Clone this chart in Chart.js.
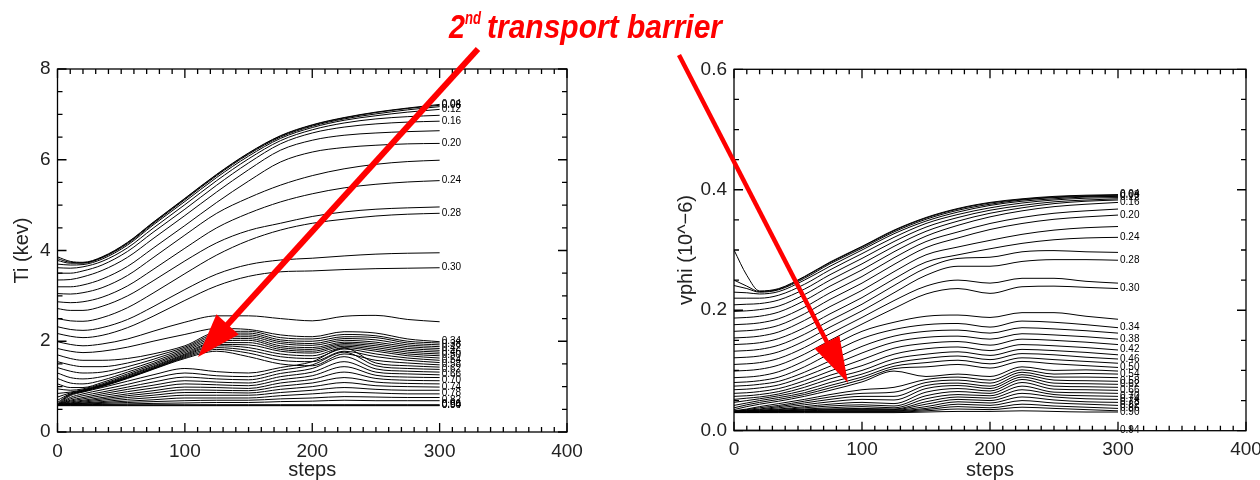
<!DOCTYPE html>
<html>
<head>
<meta charset="utf-8">
<script src="https://cdn.jsdelivr.net/npm/chart.js@4.4.1/dist/chart.umd.min.js"></script>
<style>
html, body { margin: 0; padding: 0; background: #fff; overflow: hidden; }
#wrap { position: relative; width: 1260px; height: 480px; overflow: hidden; }
canvas { position: absolute; top: 0; }
#ti { left: 0; }
#vphi { left: 630px; }
#notes { left: 0; pointer-events: none; }
</style>
</head>
<body>
<div id="wrap">
  <canvas id="ti" width="630" height="480"></canvas>
  <canvas id="vphi" width="650" height="480"></canvas>
  <canvas id="notes" width="1260" height="480"></canvas>
</div>
<script>
// x positions (steps) shared by every curve
const steps = [0, 10, 20, 35, 55, 75, 100, 125, 150, 175, 200, 225, 250, 275, 300];

// ---- left panel: Ti (kev) ----
const tiUpper = [
  [3.86, 3.76, 3.74, 3.86, 4.18, 4.62, 5.15, 5.68, 6.15, 6.53, 6.77, 6.93, 7.05, 7.14, 7.22],
  [3.82, 3.74, 3.73, 3.85, 4.17, 4.61, 5.14, 5.67, 6.14, 6.52, 6.76, 6.92, 7.04, 7.13, 7.20],
  [3.78, 3.72, 3.72, 3.84, 4.15, 4.59, 5.12, 5.65, 6.12, 6.50, 6.74, 6.90, 7.01, 7.10, 7.17],
  [3.70, 3.68, 3.69, 3.81, 4.12, 4.56, 5.08, 5.61, 6.08, 6.47, 6.71, 6.87, 6.97, 7.05, 7.11],
  [3.62, 3.61, 3.64, 3.76, 4.06, 4.49, 5.01, 5.54, 6.02, 6.42, 6.66, 6.81, 6.90, 6.95, 6.98],
  [3.50, 3.50, 3.55, 3.68, 3.98, 4.40, 4.91, 5.44, 5.93, 6.35, 6.59, 6.72, 6.79, 6.83, 6.85],
  [3.35, 3.36, 3.42, 3.56, 3.85, 4.26, 4.77, 5.29, 5.78, 6.21, 6.43, 6.54, 6.59, 6.62, 6.64],
  [3.20, 3.20, 3.24, 3.37, 3.65, 4.05, 4.55, 5.06, 5.53, 5.95, 6.17, 6.27, 6.32, 6.35, 6.36],
  [3.05, 3.04, 3.07, 3.18, 3.45, 3.84, 4.34, 4.82, 5.16, 5.44, 5.65, 5.80, 5.90, 5.96, 5.99],
  [2.87, 2.85, 2.87, 2.97, 3.22, 3.58, 4.05, 4.50, 4.82, 5.07, 5.25, 5.38, 5.46, 5.51, 5.54],
  [2.72, 2.68, 2.68, 2.77, 3.00, 3.33, 3.77, 4.17, 4.44, 4.60, 4.75, 4.85, 4.91, 4.94, 4.96],
  [2.50, 2.45, 2.44, 2.52, 2.74, 3.06, 3.49, 3.90, 4.22, 4.45, 4.60, 4.69, 4.76, 4.80, 4.82],
  [2.32, 2.26, 2.24, 2.30, 2.48, 2.76, 3.14, 3.48, 3.69, 3.79, 3.83, 3.88, 3.92, 3.94, 3.95],
  [2.17, 2.11, 2.08, 2.13, 2.30, 2.55, 2.90, 3.22, 3.43, 3.53, 3.55, 3.58, 3.60, 3.61, 3.62],
  [1.99, 1.93, 1.90, 1.94, 2.05, 2.22, 2.42, 2.56, 2.56, 2.50, 2.45, 2.55, 2.57, 2.48, 2.43],
  [1.84, 1.78, 1.75, 1.78, 1.87, 2.00, 2.15, 2.28, 2.26, 2.14, 2.10, 2.21, 2.18, 2.05, 1.99]
];
const tiUpperLabels = ['0.04', '0.08', '', '0.12', '', '0.16', '', '0.20', '', '0.24', '', '0.28', '', '0.30', '', '0.34'];

const tiBand = [
  [1.70, 1.62, 1.58, 1.58, 1.62, 1.72, 1.90, 2.20, 2.22, 2.08, 2.05, 2.15, 2.12, 2.00, 1.96],
  [1.55, 1.48, 1.44, 1.44, 1.52, 1.66, 1.87, 2.16, 2.18, 2.03, 2.00, 2.10, 2.08, 1.96, 1.92],
  [1.42, 1.34, 1.30, 1.32, 1.44, 1.60, 1.84, 2.12, 2.14, 1.99, 1.95, 2.06, 2.03, 1.92, 1.88],
  [1.30, 1.20, 1.17, 1.22, 1.37, 1.55, 1.81, 2.08, 2.10, 1.95, 1.91, 2.02, 1.98, 1.88, 1.84],
  [1.18, 1.08, 1.06, 1.14, 1.32, 1.51, 1.78, 2.04, 2.06, 1.90, 1.86, 1.98, 1.94, 1.84, 1.80],
  [1.06, 0.98, 0.98, 1.09, 1.28, 1.48, 1.75, 2.00, 2.02, 1.86, 1.82, 1.95, 1.90, 1.80, 1.76],
  [0.95, 0.92, 0.95, 1.06, 1.25, 1.45, 1.72, 1.97, 1.97, 1.82, 1.78, 1.92, 1.86, 1.76, 1.72],
  [0.85, 0.88, 0.93, 1.04, 1.23, 1.43, 1.70, 1.93, 1.92, 1.78, 1.74, 1.89, 1.82, 1.72, 1.68],
  [0.77, 0.86, 0.92, 1.03, 1.21, 1.41, 1.68, 1.90, 1.86, 1.72, 1.68, 1.86, 1.78, 1.68, 1.63],
  [0.70, 0.84, 0.91, 1.02, 1.20, 1.40, 1.66, 1.86, 1.80, 1.66, 1.62, 1.83, 1.72, 1.63, 1.58],
  [0.65, 0.83, 0.90, 1.01, 1.19, 1.39, 1.64, 1.82, 1.74, 1.58, 1.55, 1.78, 1.66, 1.58, 1.53],
  [0.62, 0.82, 0.89, 1.00, 1.18, 1.38, 1.62, 1.78, 1.66, 1.50, 1.46, 1.72, 1.58, 1.52, 1.48]
];
const tiBandLabels = ['', '0.38', '', '0.42', '', '0.46', '', '0.50', '', '0.54', '', '0.58'];

const tiLower = [
  [0.60, 0.80, 0.88, 0.98, 1.12, 1.26, 1.40, 1.33, 1.30, 1.42, 1.55, 1.85, 1.52, 1.46, 1.43],
  [0.60, 0.76, 0.84, 0.93, 1.05, 1.18, 1.30, 1.24, 1.22, 1.36, 1.48, 1.76, 1.46, 1.40, 1.38],
  [0.60, 0.73, 0.80, 0.88, 0.99, 1.10, 1.21, 1.17, 1.15, 1.29, 1.40, 1.66, 1.39, 1.34, 1.32],
  [0.60, 0.70, 0.76, 0.84, 0.94, 1.03, 1.13, 1.10, 1.08, 1.22, 1.32, 1.55, 1.32, 1.28, 1.26],
  [0.60, 0.68, 0.73, 0.80, 0.89, 0.97, 1.06, 1.04, 1.02, 1.15, 1.24, 1.44, 1.25, 1.21, 1.20],
  [0.60, 0.66, 0.70, 0.76, 0.84, 0.91, 0.99, 0.98, 0.96, 1.08, 1.16, 1.32, 1.18, 1.14, 1.13],
  [0.60, 0.64, 0.68, 0.73, 0.80, 0.86, 0.93, 0.92, 0.91, 1.01, 1.08, 1.20, 1.10, 1.07, 1.06],
  [0.60, 0.63, 0.66, 0.70, 0.76, 0.81, 0.87, 0.87, 0.86, 0.94, 1.00, 1.09, 1.02, 1.00, 0.99],
  [0.60, 0.62, 0.64, 0.67, 0.72, 0.76, 0.81, 0.81, 0.81, 0.87, 0.92, 0.98, 0.94, 0.92, 0.92],
  [0.60, 0.61, 0.63, 0.65, 0.68, 0.71, 0.75, 0.75, 0.75, 0.80, 0.84, 0.88, 0.86, 0.84, 0.84],
  [0.60, 0.61, 0.62, 0.63, 0.65, 0.67, 0.69, 0.70, 0.70, 0.73, 0.75, 0.78, 0.77, 0.76, 0.76],
  [0.59, 0.60, 0.60, 0.61, 0.62, 0.63, 0.64, 0.65, 0.65, 0.67, 0.68, 0.70, 0.69, 0.69, 0.69],
  [0.60, 0.60, 0.60, 0.60, 0.60, 0.60, 0.60, 0.60, 0.60, 0.60, 0.60, 0.60, 0.60, 0.60, 0.60],
  [0.59, 0.59, 0.59, 0.59, 0.59, 0.59, 0.59, 0.59, 0.59, 0.59, 0.59, 0.59, 0.59, 0.59, 0.59],
  [0.58, 0.58, 0.58, 0.58, 0.58, 0.58, 0.58, 0.58, 0.58, 0.58, 0.58, 0.58, 0.58, 0.58, 0.58]
];
const tiLowerLabels = ['', '0.62', '', '0.66', '', '0.70', '', '0.74', '', '0.78', '', '0.82', '0.86', '0.90', '0.94'];

// ---- right panel: vphi (10^-6) ----
const vphiUpper = [
  [.300, .258, .232, .236, .256, .280, .306, .333, .354, .369, .379, .385, .389, .391, .392],
  [.250, .240, .231, .235, .255, .279, .305, .332, .353, .368, .378, .384, .388, .390, .391],
  [.241, .236, .230, .234, .253, .277, .303, .330, .351, .366, .376, .383, .387, .389, .390],
  [.230, .229, .227, .231, .250, .273, .300, .327, .348, .363, .374, .381, .385, .388, .389],
  [.220, .220, .220, .225, .243, .267, .294, .321, .344, .359, .370, .378, .383, .386, .387],
  [.209, .210, .211, .217, .235, .259, .286, .314, .338, .354, .366, .374, .380, .383, .385],
  [.198, .199, .201, .207, .226, .250, .277, .306, .331, .348, .361, .370, .377, .381, .383],
  [.187, .188, .190, .197, .216, .240, .267, .297, .323, .341, .355, .365, .372, .376, .379],
  [.176, .177, .179, .186, .205, .229, .256, .287, .314, .330, .344, .354, .361, .365, .368],
  [.165, .166, .168, .175, .194, .218, .245, .276, .304, .320, .334, .344, .351, .355, .358],
  [.154, .155, .157, .164, .183, .206, .233, .264, .292, .305, .316, .326, .333, .337, .339],
  [.143, .144, .146, .153, .171, .194, .221, .252, .280, .292, .302, .311, .317, .320, .321],
  [.132, .133, .135, .142, .160, .183, .210, .241, .270, .286, .288, .297, .299, .297, .296],
  [.121, .122, .124, .131, .149, .172, .199, .229, .258, .273, .273, .281, .284, .284, .283],
  [.110, .111, .113, .120, .138, .161, .188, .216, .240, .250, .245, .253, .253, .248, .245],
  [.099, .100, .102, .109, .127, .150, .177, .203, .227, .236, .228, .239, .240, .238, .236]
];
const vphiUpperLabels = ['0.04', '0.08', '', '', '0.12', '', '', '0.16', '', '0.20', '', '0.24', '', '0.28', '', '0.30'];

const vphiMiddle = [
  [.088, .089, .091, .098, .116, .139, .165, .180, .190, .192, .188, .196, .196, .190, .185],
  [.080, .081, .083, .089, .106, .128, .153, .168, .176, .178, .172, .182, .180, .176, .171],
  [.074, .075, .077, .082, .097, .116, .140, .157, .165, .167, .162, .171, .169, .166, .162],
  [.068, .069, .071, .076, .090, .107, .129, .147, .155, .157, .152, .161, .159, .156, .152],
  [.062, .063, .065, .070, .083, .099, .118, .137, .145, .148, .142, .152, .150, .147, .143],
  [.057, .058, .060, .065, .077, .092, .108, .127, .136, .139, .133, .143, .141, .138, .134],
  [.052, .054, .056, .061, .072, .086, .100, .119, .127, .131, .125, .135, .133, .130, .126],
  [.047, .050, .053, .058, .067, .080, .094, .112, .120, .124, .118, .128, .126, .122, .119],
  [.042, .046, .050, .055, .063, .075, .089, .107, .113, .117, .111, .121, .118, .115, .112],
  [.038, .043, .047, .052, .060, .071, .085, .103, .106, .110, .104, .115, .111, .108, .105],
  [.035, .040, .044, .049, .057, .067, .081, .099, .090, .094, .090, .106, .100, .101, .099]
];
const vphiMiddleLabels = ['', '0.34', '', '0.38', '', '0.42', '', '0.46', '', '0.50', ''];

const vphiLower = [
  [.033, .036, .040, .045, .052, .060, .068, .072, .085, .089, .084, .101, .094, .095, .094],
  [.032, .035, .038, .042, .049, .056, .062, .064, .080, .084, .079, .097, .089, .089, .088],
  [.032, .034, .036, .040, .046, .052, .057, .057, .075, .079, .074, .093, .084, .083, .082],
  [.032, .033, .035, .038, .043, .048, .052, .051, .070, .075, .070, .089, .079, .078, .077],
  [.032, .033, .034, .036, .040, .044, .047, .045, .064, .070, .066, .085, .074, .073, .072],
  [.031, .032, .033, .035, .038, .041, .043, .041, .058, .065, .062, .080, .069, .068, .067],
  [.031, .032, .033, .034, .036, .038, .040, .038, .053, .060, .058, .074, .064, .063, .062],
  [.031, .032, .032, .033, .035, .036, .037, .036, .048, .056, .054, .068, .060, .058, .057],
  [.031, .031, .032, .033, .034, .035, .035, .035, .044, .052, .050, .062, .056, .053, .052],
  [.031, .031, .031, .032, .033, .034, .034, .034, .040, .048, .046, .056, .051, .048, .047],
  [.031, .031, .031, .032, .032, .033, .033, .033, .037, .044, .042, .050, .046, .044, .042],
  [.031, .031, .031, .031, .032, .032, .032, .032, .035, .040, .038, .044, .041, .039, .037],
  [.031, .031, .031, .031, .031, .031, .031, .031, .033, .036, .035, .039, .037, .035, .033],
  [.030, .030, .030, .030, .030, .030, .030, .030, .031, .032, .032, .033, .032, .031, .031],
  [.001, .001, .001, .001, .001, .001, .001, .001, .001, .001, .001, .001, .001, .001, .001]
];
const vphiLowerLabels = ['0.54', '', '0.58', '0.62', '', '0.66', '', '0.70', '0.74', '0.78', '0.82', '0.86', '', '0.90', '0.94'];

const FONT = '"Liberation Sans", Arial, sans-serif';

function make_sets(rows, labels) {
    return rows.map((row, i) => ({
        label: labels[i],
        data: row.map((v, j) => ({x: steps[j], y: v})),
        borderColor: '#000',
        borderWidth: 1,
        pointRadius: 0,
        fill: false,
        cubicInterpolationMode: 'monotone'
    }));
}

// IDL style box: frame on all sides with inward ticks
const frame = {
    id: 'frame',
    afterDraw(chart, args, o) {
        const {ctx, chartArea: a} = chart;
        const xs = chart.scales.x, ys = chart.scales.y;
        ctx.save();
        ctx.strokeStyle = '#000';
        ctx.lineWidth = 1.3;
        ctx.strokeRect(a.left, a.top, a.right - a.left, a.bottom - a.top);
        ctx.beginPath();
        for (let k = 0; k <= 40; k++) {
            const px = xs.getPixelForValue(k * 10);
            const len = k % 10 === 0 ? 9 : 5;
            ctx.moveTo(px, a.bottom); ctx.lineTo(px, a.bottom - len);
            ctx.moveTo(px, a.top); ctx.lineTo(px, a.top + len);
        }
        const n = Math.round(ys.max / o.yMinor);
        for (let k = 0; k <= n; k++) {
            const py = ys.getPixelForValue(k * o.yMinor);
            const len = k % 4 === 0 ? 9 : 5;
            ctx.moveTo(a.left, py); ctx.lineTo(a.left + len, py);
            ctx.moveTo(a.right, py); ctx.lineTo(a.right - len, py);
        }
        ctx.stroke();
        ctx.restore();
    }
};

// small radius labels at the end of each curve
const endLabels = {
    id: 'endLabels',
    afterDatasetsDraw(chart) {
        const ctx = chart.ctx;
        ctx.save();
        ctx.font = '10px ' + FONT;
        ctx.fillStyle = '#000';
        ctx.textBaseline = 'alphabetic';
        chart.data.datasets.forEach((ds, i) => {
            if (!ds.label) return;
            const pts = chart.getDatasetMeta(i).data;
            const p = pts[pts.length - 1];
            ctx.fillText(ds.label, p.x + 2, p.y + 2.5);
        });
        ctx.restore();
    }
};

function build_chart(id, sets, cfg) {
    return new Chart(document.getElementById(id), {
        type: 'line',
        data: {datasets: sets},
        options: {
            responsive: false,
            animation: false,
            events: [],
            layout: {padding: {top: cfg.padTop, right: cfg.padRight, left: 0, bottom: 0}},
            plugins: {
                legend: {display: false},
                tooltip: {enabled: false},
                frame: {yMinor: cfg.yMinor}
            },
            scales: {
                x: {
                    type: 'linear', min: 0, max: 400,
                    afterFit: s => { s.height = cfg.xHeight; },
                    grid: {display: false, drawTicks: false},
                    border: {display: false},
                    ticks: {stepSize: 100, maxRotation: 0, padding: 8, color: '#222', font: {family: FONT, size: 19}},
                    title: {display: true, text: 'steps', color: '#222', padding: 0, font: {family: FONT, size: 20, lineHeight: 1}}
                },
                y: {
                    type: 'linear', min: 0, max: cfg.yMax,
                    afterFit: s => { s.width = cfg.yWidth; },
                    grid: {display: false, drawTicks: false},
                    border: {display: false},
                    ticks: {stepSize: cfg.yStep, padding: 7, color: '#222', font: {family: FONT, size: 19}, callback: cfg.fmt},
                    title: {display: true, text: cfg.yTitle, color: '#222', padding: {top: cfg.yTitlePad, bottom: 0}, font: {family: FONT, size: 20}}
                }
            }
        },
        plugins: [frame, endLabels]
    });
}

build_chart('ti',
    make_sets(tiUpper, tiUpperLabels)
        .concat(make_sets(tiBand, tiBandLabels))
        .concat(make_sets(tiLower, tiLowerLabels)),
    {padTop: 69, padRight: 63, xHeight: 48, yWidth: 57.5, yMax: 8, yStep: 2, yMinor: 0.5,
     yTitle: 'Ti (kev)', yTitlePad: 10, fmt: v => String(v)});

build_chart('vphi',
    make_sets(vphiUpper, vphiUpperLabels)
        .concat(make_sets(vphiMiddle, vphiMiddleLabels))
        .concat(make_sets(vphiLower, vphiLowerLabels)),
    {padTop: 69.3, padRight: 34, xHeight: 49.3, yWidth: 104, yMax: 0.6, yStep: 0.2, yMinor: 0.05,
     yTitle: 'vphi (10^\u22126)', yTitlePad: 44, fmt: v => v.toFixed(1)});

// annotation: title and red arrows drawn over both panels
function arrow(ctx, x0, y0, x1, y1, w, headLen, headHalf) {
    const dx = x1 - x0, dy = y1 - y0, L = Math.hypot(dx, dy);
    const ux = dx / L, uy = dy / L;
    const bx = x1 - ux * headLen, by = y1 - uy * headLen;
    ctx.lineWidth = w;
    ctx.beginPath();
    ctx.moveTo(x0, y0);
    ctx.lineTo(bx + ux * 3, by + uy * 3);
    ctx.stroke();
    ctx.beginPath();
    ctx.moveTo(x1, y1);
    ctx.lineTo(bx - uy * headHalf, by + ux * headHalf);
    ctx.lineTo(bx + uy * headHalf, by - ux * headHalf);
    ctx.closePath();
    ctx.fill();
}

// condensed text: tall glyphs squeezed to a target width
function narrow_text(ctx, text, x, y, size, width) {
    ctx.font = 'italic bold ' + size + 'px ' + FONT;
    const w = ctx.measureText(text).width;
    ctx.save();
    ctx.translate(x, y);
    ctx.scale(width / w, 1);
    ctx.fillText(text, 0, 0);
    ctx.restore();
}

const notes = document.getElementById('notes').getContext('2d');
notes.fillStyle = '#ff0000';
notes.strokeStyle = '#ff0000';
narrow_text(notes, '2', 449, 38, 34, 16);
narrow_text(notes, 'nd', 465, 24, 19, 16);
narrow_text(notes, 'transport barrier', 487, 38, 34, 235);

arrow(notes, 478, 49, 198, 357, 6, 44, 15);
arrow(notes, 679, 55, 848, 383, 4.5, 46, 14);
</script>
</body>
</html>
